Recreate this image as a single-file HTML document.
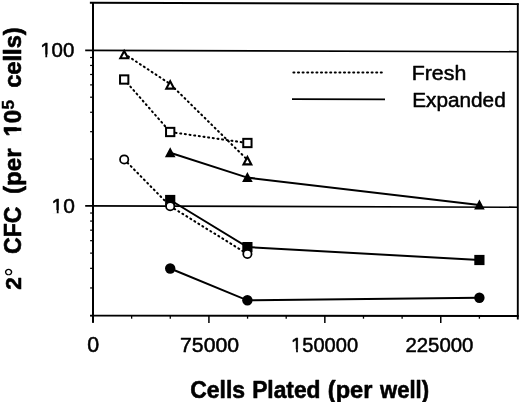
<!DOCTYPE html>
<html><head><meta charset="utf-8"><title>Chart</title>
<style>html,body{margin:0;padding:0;background:#fff;overflow:hidden;}svg{display:block;will-change:transform;filter:grayscale(1);}text{font-family:"Liberation Sans",sans-serif;fill:#000;stroke:#000;stroke-linejoin:round;}.r{stroke-width:0.5px;}.b{font-weight:bold;stroke-width:0.5px;}.d{stroke-width:0;}</style></head><body>
<svg width="520" height="402" viewBox="0 0 520 402">
<rect width="520" height="402" fill="#fff"/>
<line x1="85.2" y1="50.4" x2="517.8" y2="51.7" stroke="#000" stroke-width="1.6"/>
<line x1="85.2" y1="205.85" x2="517.8" y2="207.2" stroke="#000" stroke-width="1.6"/>
<line x1="89.9" y1="2.8" x2="518.6999999999999" y2="4.1" stroke="#000" stroke-width="1.9"/>
<line x1="90.1" y1="315.6" x2="518.6999999999999" y2="315.95" stroke="#000" stroke-width="1.9"/>
<line x1="93.0" y1="1.9999999999999998" x2="93.0" y2="322.6" stroke="#000" stroke-width="2"/>
<line x1="517.8" y1="3.3" x2="517.8" y2="319.4" stroke="#000" stroke-width="1.9"/>
<line x1="90.1" y1="159.05" x2="93.0" y2="159.05" stroke="#000" stroke-width="1.2"/>
<line x1="90.1" y1="131.68" x2="93.0" y2="131.68" stroke="#000" stroke-width="1.2"/>
<line x1="90.1" y1="112.26" x2="93.0" y2="112.26" stroke="#000" stroke-width="1.2"/>
<line x1="90.1" y1="97.20" x2="93.0" y2="97.20" stroke="#000" stroke-width="1.2"/>
<line x1="90.1" y1="84.89" x2="93.0" y2="84.89" stroke="#000" stroke-width="1.2"/>
<line x1="90.1" y1="74.48" x2="93.0" y2="74.48" stroke="#000" stroke-width="1.2"/>
<line x1="90.1" y1="65.46" x2="93.0" y2="65.46" stroke="#000" stroke-width="1.2"/>
<line x1="90.1" y1="57.51" x2="93.0" y2="57.51" stroke="#000" stroke-width="1.2"/>
<line x1="90.1" y1="315.60" x2="93.0" y2="315.60" stroke="#000" stroke-width="1.2"/>
<line x1="90.1" y1="287.95" x2="93.0" y2="287.95" stroke="#000" stroke-width="1.2"/>
<line x1="90.1" y1="268.33" x2="93.0" y2="268.33" stroke="#000" stroke-width="1.2"/>
<line x1="90.1" y1="253.12" x2="93.0" y2="253.12" stroke="#000" stroke-width="1.2"/>
<line x1="90.1" y1="240.68" x2="93.0" y2="240.68" stroke="#000" stroke-width="1.2"/>
<line x1="90.1" y1="230.17" x2="93.0" y2="230.17" stroke="#000" stroke-width="1.2"/>
<line x1="90.1" y1="221.07" x2="93.0" y2="221.07" stroke="#000" stroke-width="1.2"/>
<line x1="90.1" y1="213.03" x2="93.0" y2="213.03" stroke="#000" stroke-width="1.2"/>
<line x1="93.00" y1="315.60" x2="93.00" y2="323" stroke="#000" stroke-width="1.5"/>
<line x1="131.64" y1="315.63" x2="131.64" y2="318.7" stroke="#000" stroke-width="1.3"/>
<line x1="170.28" y1="315.66" x2="170.28" y2="318.7" stroke="#000" stroke-width="1.3"/>
<line x1="208.92" y1="315.70" x2="208.92" y2="323" stroke="#000" stroke-width="1.5"/>
<line x1="247.56" y1="315.73" x2="247.56" y2="318.7" stroke="#000" stroke-width="1.3"/>
<line x1="286.20" y1="315.76" x2="286.20" y2="318.7" stroke="#000" stroke-width="1.3"/>
<line x1="324.84" y1="315.79" x2="324.84" y2="323" stroke="#000" stroke-width="1.5"/>
<line x1="363.48" y1="315.82" x2="363.48" y2="318.7" stroke="#000" stroke-width="1.3"/>
<line x1="402.12" y1="315.85" x2="402.12" y2="318.7" stroke="#000" stroke-width="1.3"/>
<line x1="440.76" y1="315.89" x2="440.76" y2="323" stroke="#000" stroke-width="1.5"/>
<line x1="479.40" y1="315.92" x2="479.40" y2="318.7" stroke="#000" stroke-width="1.3"/>
<polyline points="170.2,152.8 247.4,177.6 479.4,205.1" fill="none" stroke="#000" stroke-width="2.0"/>
<polygon points="170.2,147.2 175.5,157.2 164.9,157.2" fill="#000"/>
<polygon points="247.4,172.0 252.7,182.0 242.1,182.0" fill="#000"/>
<polygon points="479.4,199.5 484.7,209.5 474.1,209.5" fill="#000"/>
<polyline points="170.2,200.0 247.4,247.1 479.4,260.0" fill="none" stroke="#000" stroke-width="2.0"/>
<rect x="165.1" y="194.9" width="10.2" height="10.2" fill="#000"/>
<rect x="242.3" y="242.0" width="10.2" height="10.2" fill="#000"/>
<rect x="474.3" y="254.9" width="10.2" height="10.2" fill="#000"/>
<polyline points="170.2,268.5 247.4,300.3 479.4,297.7" fill="none" stroke="#000" stroke-width="2.0"/>
<circle cx="170.2" cy="268.5" r="5.2" fill="#000"/>
<circle cx="247.4" cy="300.3" r="5.2" fill="#000"/>
<circle cx="479.4" cy="297.7" r="5.2" fill="#000"/>
<polyline points="124.2,53.7 170.2,84.0 247.4,159.8" fill="none" stroke="#000" stroke-width="2.05" stroke-dasharray="1 3.7" stroke-linecap="round"/>
<polyline points="124.2,79.5 170.2,132.0 247.4,143.0" fill="none" stroke="#000" stroke-width="2.05" stroke-dasharray="1 3.7" stroke-linecap="round"/>
<polyline points="124.2,159.4 170.2,206.2 247.4,253.9" fill="none" stroke="#000" stroke-width="2.05" stroke-dasharray="1 3.7" stroke-linecap="round"/>
<polygon points="124.20,51.00 128.10,58.30 120.30,58.30" fill="#fff" stroke="#000" stroke-width="2.1" stroke-linejoin="miter"/>
<polygon points="170.20,81.30 174.10,88.60 166.30,88.60" fill="#fff" stroke="#000" stroke-width="2.1" stroke-linejoin="miter"/>
<polygon points="247.40,157.10 251.30,164.40 243.50,164.40" fill="#fff" stroke="#000" stroke-width="2.1" stroke-linejoin="miter"/>
<rect x="120.05" y="75.35" width="8.3" height="8.3" fill="#fff" stroke="#000" stroke-width="2"/>
<rect x="166.05" y="127.85" width="8.3" height="8.3" fill="#fff" stroke="#000" stroke-width="2"/>
<rect x="243.25" y="138.85" width="8.3" height="8.3" fill="#fff" stroke="#000" stroke-width="2"/>
<circle cx="124.2" cy="159.4" r="4.15" fill="#fff" stroke="#000" stroke-width="1.75"/>
<circle cx="170.2" cy="206.2" r="4.15" fill="#fff" stroke="#000" stroke-width="1.75"/>
<circle cx="247.4" cy="253.9" r="4.15" fill="#fff" stroke="#000" stroke-width="1.75"/>
<line x1="293.4" y1="72.4" x2="384.0" y2="72.6" stroke="#000" stroke-width="2.05" stroke-dasharray="1 3.6" stroke-linecap="round"/>
<line x1="292" y1="99.1" x2="385" y2="99.4" stroke="#000" stroke-width="1.6"/>
<g transform="matrix(1.0679 0 0 0.9954 411.72 79.80)"><text class="r" font-size="20">Fresh</text></g>
<g transform="matrix(1.0394 0 0 0.9816 412.17 106.60)"><text class="r" font-size="20">Expanded</text></g>
<g transform="matrix(1.0236 0 0 1.0191 40.23 57.30)"><text class="r" font-size="20">100</text><rect x="-0.625" y="-2.764" width="5.654" height="3.740" fill="#fff"/><rect x="6.797" y="-2.764" width="4.424" height="3.740" fill="#fff"/></g>
<g transform="matrix(1.0490 0 0 0.9976 51.48 212.90)"><text class="r" font-size="20">10</text><rect x="-0.625" y="-2.764" width="5.654" height="3.740" fill="#fff"/><rect x="6.797" y="-2.764" width="4.424" height="3.740" fill="#fff"/></g>
<g transform="matrix(1.0699 0 0 1.0766 87.14 352.10)"><text class="r" font-size="20">0</text></g>
<g transform="matrix(1.0632 0 0 1.0478 180.04 352.00)"><text class="r" font-size="20">75000</text></g>
<g transform="matrix(1.0045 0 0 1.0407 291.07 352.00)"><text class="r" font-size="20">150000</text><rect x="-0.625" y="-2.764" width="5.654" height="3.740" fill="#fff"/><rect x="6.797" y="-2.764" width="4.424" height="3.740" fill="#fff"/></g>
<g transform="matrix(1.0180 0 0 1.0407 405.48 352.10)"><text class="r" font-size="20">225000</text></g>
<g transform="matrix(1.1472 0 0 1.1751 190.28 397.70)"><text class="b" font-size="20">Cells</text></g>
<g transform="matrix(1.1390 0 0 1.1751 252.18 397.70)"><text class="b" font-size="20">Plated</text></g>
<g transform="matrix(1.1792 0 0 1.1751 327.82 397.70)"><text class="b" font-size="20">(per</text></g>
<g transform="matrix(1.1026 0 0 1.1751 380.07 397.70)"><text class="b" font-size="20">well)</text></g>
<g transform="translate(21.20 289.76) rotate(-90) scale(1.1379 1.1411)"><text class="b" font-size="20">2</text></g>
<g transform="translate(24.30 276.79) rotate(-90) scale(1.1607 1.3852)"><text class="d" font-size="20">°</text></g>
<g transform="translate(21.20 254.02) rotate(-90) scale(1.1552 1.2273)"><text class="b" font-size="20">CFC</text></g>
<g transform="translate(21.20 193.91) rotate(-90) scale(1.2066 1.1959)"><text class="b" font-size="20">(per</text></g>
<g transform="translate(20.70 136.54) rotate(-90) scale(1.1990 1.2129)"><text class="b" font-size="20">10</text><rect x="-0.889" y="-3.311" width="5.557" height="4.287" fill="#fff"/><rect x="7.412" y="-3.311" width="4.229" height="4.287" fill="#fff"/></g>
<g transform="translate(13.90 109.41) rotate(-90) scale(0.8557 0.8665)"><text class="b" font-size="20">5</text></g>
<g transform="translate(21.20 87.85) rotate(-90) scale(1.1858 1.1959)"><text class="b" font-size="20">cells)</text></g>
</svg></body></html>
